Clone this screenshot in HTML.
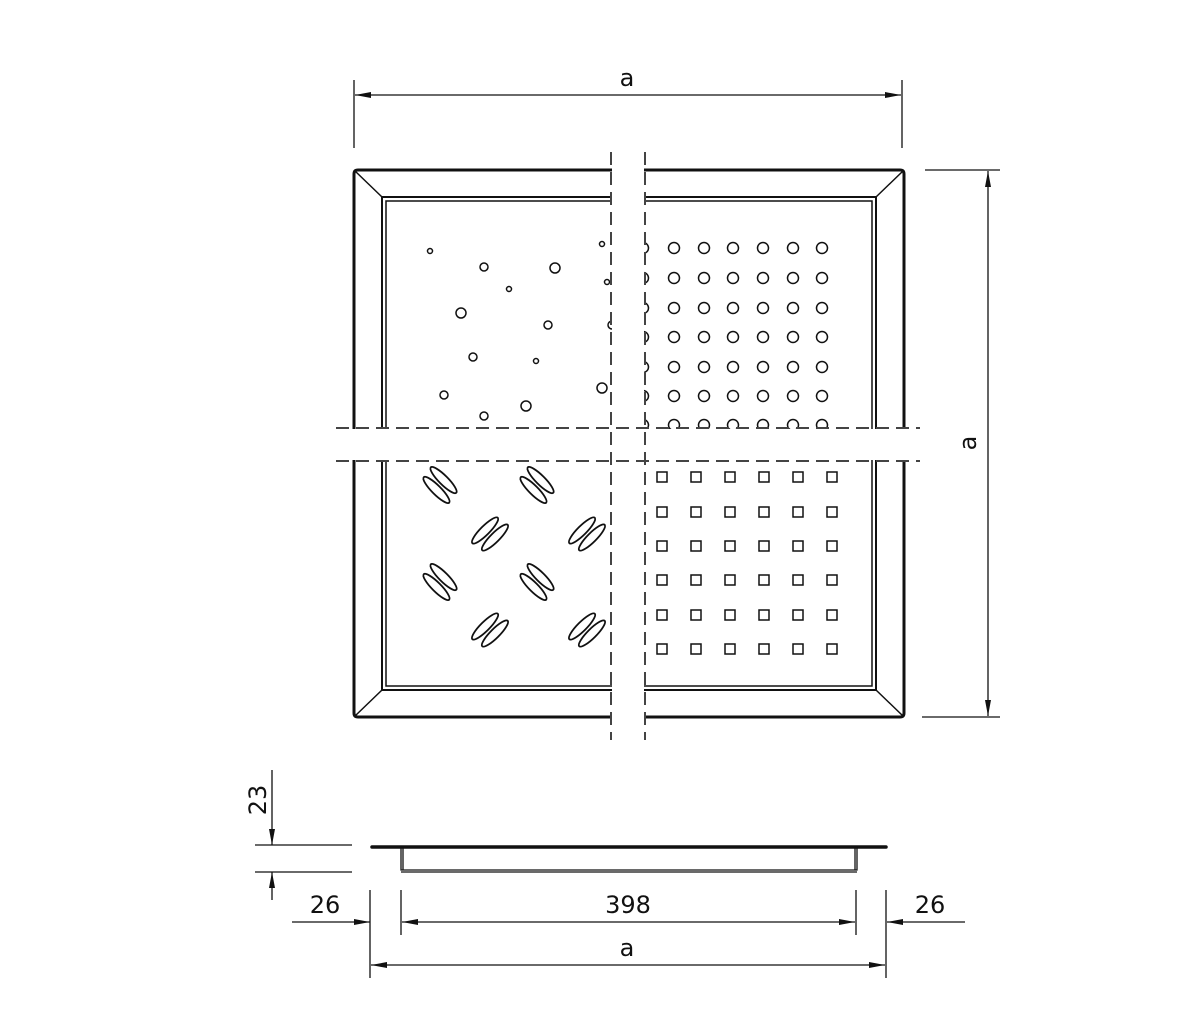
<!DOCTYPE html><html><head><style>body{margin:0;background:#fff}svg{display:block}text{font-family:"DejaVu Sans","Liberation Sans",sans-serif;font-size:24px;fill:#111}</style></head><body>
<svg width="1200" height="1022" viewBox="0 0 1200 1022" xmlns="http://www.w3.org/2000/svg">
<defs><marker id="ar" viewBox="0 0 16 6" refX="16" refY="3" markerWidth="16" markerHeight="6" markerUnits="userSpaceOnUse" orient="auto-start-reverse"><path d="M0,0L16,3L0,6z" fill="#111"/></marker>
<g id="crow" stroke="#111" fill="none" stroke-width="1.5"><circle cx="643" cy="0" r="5.5"/><circle cx="674" cy="0" r="5.5"/><circle cx="704" cy="0" r="5.5"/><circle cx="733" cy="0" r="5.5"/><circle cx="763" cy="0" r="5.5"/><circle cx="793" cy="0" r="5.5"/><circle cx="822" cy="0" r="5.5"/></g>
<g id="srow" stroke="#111" fill="none" stroke-width="1.5"><rect x="657" y="0" width="10" height="10"/><rect x="691" y="0" width="10" height="10"/><rect x="725" y="0" width="10" height="10"/><rect x="759" y="0" width="10" height="10"/><rect x="793" y="0" width="10" height="10"/><rect x="827" y="0" width="10" height="10"/></g>
<g id="pr" stroke="#111" fill="none" stroke-width="1.8"><ellipse cx="-1" cy="-6" rx="18" ry="4.5"/><ellipse cx="1" cy="6" rx="18" ry="4.5"/></g>
</defs>
<g stroke="#111" fill="none">
<path d="M358,170H900Q904,170 904,174V713Q904,717 900,717H358Q354,717 354,713V174Q354,170 358,170Z" stroke-width="3"/>
<rect x="382" y="197" width="494" height="493" stroke-width="2"/>
<rect x="386" y="201" width="486" height="485" stroke-width="1.5"/>
<path d="M355,171L382,197M903,171L876,197M355,716L382,690M903,716L876,690" stroke-width="1.5"/>
<g stroke-width="1.5">
<circle cx="430" cy="251" r="2.5"/><circle cx="484" cy="267" r="4"/><circle cx="555" cy="268" r="5"/><circle cx="509" cy="289" r="2.5"/><circle cx="461" cy="313" r="5"/><circle cx="548" cy="325" r="4"/><circle cx="473" cy="357" r="4"/><circle cx="536" cy="361" r="2.5"/><circle cx="444" cy="395" r="4"/><circle cx="526" cy="406" r="5"/><circle cx="484" cy="416" r="4"/><circle cx="602" cy="244" r="2.5"/><circle cx="607" cy="282" r="2.5"/><circle cx="612" cy="325" r="4"/><circle cx="602" cy="388" r="5"/>
</g>
</g>
<use href="#crow" transform="translate(0,248)"/><use href="#crow" transform="translate(0,278)"/><use href="#crow" transform="translate(0,308)"/><use href="#crow" transform="translate(0,337)"/><use href="#crow" transform="translate(0,367)"/><use href="#crow" transform="translate(0,396)"/><use href="#crow" transform="translate(0,425)"/>
<use href="#srow" transform="translate(0,472)"/><use href="#srow" transform="translate(0,507)"/><use href="#srow" transform="translate(0,541)"/><use href="#srow" transform="translate(0,575)"/><use href="#srow" transform="translate(0,610)"/><use href="#srow" transform="translate(0,644)"/>
<use href="#pr" transform="translate(440,485) rotate(45)"/>
<use href="#pr" transform="translate(537,485) rotate(45)"/>
<use href="#pr" transform="translate(440,582) rotate(45)"/>
<use href="#pr" transform="translate(537,582) rotate(45)"/>
<use href="#pr" transform="translate(490,534) rotate(-45)"/>
<use href="#pr" transform="translate(587,534) rotate(-45)"/>
<use href="#pr" transform="translate(490,630) rotate(-45)"/>
<use href="#pr" transform="translate(587,630) rotate(-45)"/>
<rect x="612" y="140" width="32" height="610" fill="#fff"/>
<rect x="330" y="429" width="600" height="31" fill="#fff"/>
<g stroke="#444" stroke-width="2" stroke-dasharray="13,7" fill="none">
<path d="M611,152V740M645,152V740M336,428H920M336,461H920"/>
</g>
<g stroke="#111" stroke-width="1.3" fill="none">
<path d="M354,80V148M902,80V148"/>
<path d="M355,95H901" marker-start="url(#ar)" marker-end="url(#ar)"/>
<path d="M925,170H1000M922,717H1000"/>
<path d="M988,171V716" marker-start="url(#ar)" marker-end="url(#ar)"/>
<path d="M372,847H886" stroke-width="3.5" stroke-linecap="round"/>
<path d="M401,848V870H857V848M403,870V848M855,870V848M401,872H857"/>
<path d="M255,845H352M255,872H352"/>
<path d="M272,770V845" marker-end="url(#ar)"/>
<path d="M272,900V872" marker-end="url(#ar)"/>
<path d="M370,890V978M401,890V935M856,890V935M886,890V978"/>
<path d="M292,922H370" marker-end="url(#ar)"/>
<path d="M402,922H855" marker-start="url(#ar)" marker-end="url(#ar)"/>
<path d="M965,922H887" marker-end="url(#ar)"/>
<path d="M371,965H885" marker-start="url(#ar)" marker-end="url(#ar)"/>
</g>
<text x="627" y="86" text-anchor="middle">a</text>
<text transform="translate(976,443) rotate(-90)" text-anchor="middle">a</text>
<text transform="translate(266,800) rotate(-90)" text-anchor="middle">23</text>
<text x="325" y="913" text-anchor="middle">26</text>
<text x="628" y="913" text-anchor="middle">398</text>
<text x="930" y="913" text-anchor="middle">26</text>
<text x="627" y="956" text-anchor="middle">a</text>
</svg>
</body></html>
